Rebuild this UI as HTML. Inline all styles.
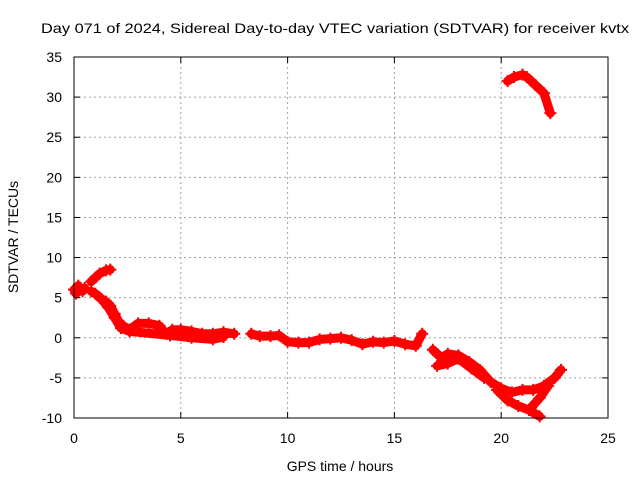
<!DOCTYPE html>
<html><head><meta charset="utf-8"><style>
body{margin:0;background:#fff}
svg text{font-family:"Liberation Sans",sans-serif;fill:#000}
</style></head><body>
<svg id="chart" width="640" height="480" xmlns="http://www.w3.org/2000/svg">
<text x="41" y="33" font-size="14" textLength="588" lengthAdjust="spacingAndGlyphs">Day 071 of 2024, Sidereal Day-to-day VTEC variation (SDTVAR) for receiver kvtx</text>
<g id="grid"></g>
<g id="series"></g>
<rect x="74" y="57" width="534" height="361" fill="none" stroke="#000" stroke-width="1"/>
<g id="axes"></g>
<text x="340" y="471" font-size="14" text-anchor="middle">GPS time / hours</text>
<text transform="translate(18,237) rotate(-90)" font-size="14" text-anchor="middle">SDTVAR / TECUs</text>
</svg>
<script>
const xTicks=[0,5,10,15,20,25];
const yTicks=[-10,-5,0,5,10,15,20,25,30,35];
const trackA=[[0,6],[0.1,5.5],[0.2,6.5],[0.3,6],[0.4,5.8],[0.5,6.2]];
const trackB=[[0.8,7],[1.0,7.5],[1.2,8],[1.5,8.4],[1.7,8.5]];
const trackC=[[0.8,5.8],[1.0,5.5],[1.2,5],[1.5,4.5],[1.7,4],[1.9,3],[2.1,2],[2.3,1.5],[2.6,1],[3.0,1.8],[3.5,1.8],[4.0,1.5],[4.3,0.5],[4.6,1],[5.0,1],[5.5,0.8],[6.0,0.5],[6.5,0.5],[7,0.7],[7.5,0.5]];
const trackI=[[1.3,4.8],[1.6,3.8],[1.9,2.5],[2.2,1.2],[2.6,0.8],[4.5,0.3],[5.5,0],[6.5,-0.2],[7,0.1]];
const trackD=[[8.3,0.5],[8.7,0.2],[9.2,0.2],[9.6,0.3],[10,-0.5],[10.5,-0.6],[11,-0.6],[11.5,-0.2],[12,-0.1],[12.5,0],[13,-0.3],[13.5,-0.8],[14,-0.5],[14.5,-0.6],[15,-0.4],[15.5,-0.8],[16,-1],[16.3,0.5]];
const trackE=[[16.8,-1.5],[17.2,-2.5],[17.5,-2],[18,-2.2],[18.5,-3],[19,-4],[19.5,-5.5],[20,-6.3],[20.5,-6.8],[21,-6.5],[21.5,-6.5],[22,-6],[22.5,-5],[22.8,-4]];
const trackJ=[[17,-3.5],[17.5,-3.2],[18,-2.6],[18.6,-3.8],[19.2,-5]];
const trackF=[[19.8,-6.5],[20.3,-7.8],[20.8,-8.5],[21.3,-9],[21.8,-9.8]];
const trackG=[[21.4,-8.7],[21.8,-7.5],[22.2,-6]];
const trackH=[[20.3,32],[20.6,32.5],[21,32.8],[21.2,32.5],[21.6,31.5],[22,30.5],[22.3,28]];
const tracks=[trackA,trackB,trackC,trackI,trackD,trackE,trackJ,trackF,trackG,trackH];
const X0=74,X1=608,Y0=418,Y1=57;
const xs=v=>X0+(v-0)/(25-0)*(X1-X0);
const ys=v=>Y0-(v+10)/(45)*(Y0-Y1);
const NS="http://www.w3.org/2000/svg";
const grid=document.getElementById('grid'),axes=document.getElementById('axes'),ser=document.getElementById('series');
function mk(tag,attrs,parent){const e=document.createElementNS(NS,tag);for(const k in attrs)e.setAttribute(k,attrs[k]);parent.appendChild(e);return e;}
xTicks.forEach(t=>{const x=xs(t);
 if(t>0&&t<25){const g=mk('line',{x1:x,x2:x,y1:Y1,y2:Y0,stroke:'#a0a0a0','stroke-dasharray':'2,3'},grid);
 
 }
 const l=mk('line',{x1:x,x2:x,y1:Y0,y2:Y0-6,stroke:'#000'},axes);
 
 
 const l2=mk('line',{x1:x,x2:x,y1:Y1,y2:Y1+6,stroke:'#000'},axes);
 
 
 const tx=mk('text',{x:x,y:443,'font-size':14,'text-anchor':'middle'},axes);tx.textContent=t;
 
 
});
yTicks.forEach(t=>{const y=ys(t);
 if(t>-10&&t<35){const g=mk('line',{x1:X0,x2:X1,y1:y,y2:y,stroke:'#a0a0a0','stroke-dasharray':'2,3'},grid);
 
 }
 const l=mk('line',{x1:X0,x2:X0+6,y1:y,y2:y,stroke:'#000'},axes);
 
 
 const l2=mk('line',{x1:X1,x2:X1-6,y1:y,y2:y,stroke:'#000'},axes);
 
 
 const tx=mk('text',{x:62,y:y+5,'font-size':14,'text-anchor':'end'},axes);tx.textContent=t;
 
 
});
tracks.forEach(tr=>{
 const pl=mk('polyline',{points:tr.map(p=>xs(p[0])+','+ys(p[1])).join(' '),fill:'none',stroke:'#ff0000','stroke-width':9,'stroke-linejoin':'round','stroke-linecap':'round'},ser);
 
 
 tr.forEach(p=>{const x=xs(p[0]),y=ys(p[1]);
  const m=mk('path',{d:`M${x-6},${y}H${x+6}M${x},${y-6}V${y+6}`,stroke:'#ff0000','stroke-width':2},ser);
  
  
 });
});
</script>
</body></html>
